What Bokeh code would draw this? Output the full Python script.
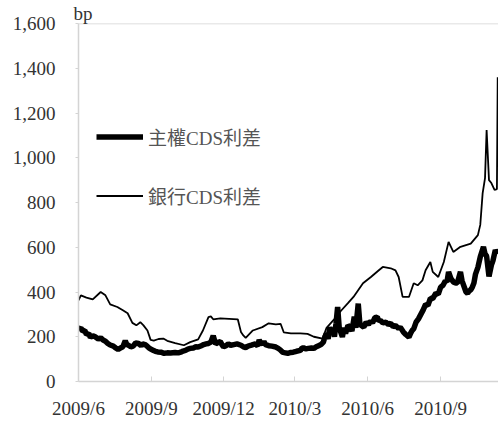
import pandas as pd
from bokeh.plotting import figure
from bokeh.models import (Range1d, FixedTicker, Legend, LegendItem, Title,
                          NumeralTickFormatter, Span)
from bokeh.embed import file_html
from bokeh.resources import INLINE

# ---------------- data ----------------
base_date = "2009-06-01"
tick_dates = ["2009-06-01", "2009-09-01", "2009-12-01", "2010-03-01", "2010-06-01", "2010-09-01"]
tick_labels = ["2009/6", "2009/9", "2009/12", "2010/3", "2010/6", "2010/9"]
end_date = "2010-11-13"
y_ticks = [0, 200, 400, 600, 800, 1000, 1200, 1400, 1600]
unit_label = "bp"

series_names = ["主權CDS利差", "銀行CDS利差"]

# days since base_date, spread in bp
bank_day = [0, 3, 10, 18, 28, 34, 40, 49, 56, 62, 68, 73, 78, 82, 87, 91, 95, 101, 107, 112,
            122, 133, 141, 151, 157, 164, 167, 170, 179, 201, 205, 208, 211, 220, 232, 240,
            249, 255, 259, 268, 280, 289, 297, 308, 313, 322, 331, 340, 347, 359, 369, 379,
            384, 394, 400, 404, 409, 417, 423, 428, 434, 438, 444, 447, 454, 461, 467, 473,
            482, 495, 504, 507, 510, 513, 515, 518, 521, 525, 528, 529]
bank_bp = [363, 385, 375, 367, 400, 385, 345, 333, 318, 305, 262, 251, 265, 251, 228, 186, 183,
           190, 192, 182, 172, 162, 176, 188, 228, 288, 291, 278, 282, 278, 221, 206, 195, 228,
           243, 260, 255, 258, 220, 215, 215, 213, 200, 192, 240, 275, 315, 350, 378, 439, 467,
           497, 512, 506, 497, 467, 378, 378, 439, 430, 452, 497, 534, 490, 467, 534, 624, 579,
           602, 616, 654, 700, 842, 909, 1124, 900, 887, 856, 860, 1360]

sov_day = [0, 3, 5, 8, 10, 13, 15, 18, 21, 25, 28, 31, 34, 37, 40, 44, 47, 50, 53, 56, 59, 61,
           63, 66, 69, 72, 76, 79, 81, 84, 86, 89, 91, 94, 97, 100, 104, 108, 112, 116, 122,
           126, 129, 132, 135, 138, 141, 145, 148, 151, 155, 158, 161, 164, 167, 170, 172, 173,
           176, 179, 181, 183, 186, 189, 192, 196, 200, 205, 208, 211, 214, 217, 220, 223, 226,
           228, 230, 232, 234, 236, 240, 244, 249, 252, 255, 258, 261, 264, 268, 271, 275, 280,
           282, 284, 287, 290, 294, 297, 300, 303, 306, 309, 311, 313, 315, 317, 319, 321, 323,
           325, 327, 329, 331, 333, 335, 337, 340, 343, 345, 348, 350, 353, 355, 357, 360, 363,
           366, 369, 371, 374, 377, 379, 381, 384, 388, 391, 394, 397, 400, 404, 406, 410, 413,
           417, 419, 421, 423, 426, 429, 432, 435, 438, 441, 444, 447, 451, 454, 457, 460, 463,
           465, 467, 470, 473, 476, 478, 480, 482, 484, 487, 489, 491, 493, 495, 497, 499, 501,
           504, 507, 509, 511, 513, 515, 518, 521, 523, 526, 529]
sov_bp = [232, 240, 225, 228, 210, 215, 197, 205, 200, 190, 195, 185, 180, 170, 163, 158, 150,
          143, 150, 155, 182, 165, 162, 155, 158, 172, 170, 160, 168, 165, 160, 150, 145, 140,
          135, 132, 131, 126, 128, 127, 130, 128, 131, 136, 139, 145, 148, 150, 155, 154, 160,
          165, 168, 170, 176, 205, 180, 168, 175, 178, 165, 155, 160, 168, 162, 165, 168, 162,
          155, 152, 158, 161, 165, 168, 160, 185, 172, 168, 178, 165, 160, 158, 154, 148, 140,
          130, 128, 126, 130, 131, 135, 139, 150, 150, 146, 148, 150, 148, 155, 160, 165, 176,
          200, 215, 190, 243, 210, 240, 200, 260, 333, 240, 220, 199, 240, 215, 250, 243, 225,
          290, 240, 348, 260, 250, 243, 265, 255, 270, 262, 285, 288, 270, 273, 262, 265, 255,
          260, 245, 250, 237, 243, 221, 210, 198, 215, 228, 235, 265, 280, 300, 320, 345, 340,
          372, 370, 395, 390, 422, 430, 450, 445, 490, 460, 445, 440, 440, 465, 490, 450, 420,
          400, 394, 405, 410, 422, 440, 480, 510, 557, 580, 602, 570, 560, 470, 520, 540, 587,
          570]

# ---------------- derived ----------------
base = pd.Timestamp(base_date)
tick_days = [(pd.Timestamp(d) - base).days for d in tick_dates]
end_day = (pd.Timestamp(end_date) - base).days

serif = "Liberation Serif, Noto Sans CJK TC"

p = figure(width=498, height=421, output_backend="svg", toolbar_location=None,
           x_range=Range1d(0, end_day), y_range=Range1d(0, 1600),
           min_border_left=78, min_border_right=0, min_border_top=0, min_border_bottom=40)
p.background_fill_color = "white"
p.border_fill_color = "white"
p.outline_line_color = None
p.xgrid.visible = False
p.ygrid.visible = False

p.title = Title(text=unit_label, align="left", offset=-5, standoff=0,
                text_font=serif, text_font_size="19px", text_font_style="normal",
                text_color="#333333")

r_sov = p.line(sov_day, sov_bp, line_color="black", line_width=5.5)
r_bank = p.line(bank_day, bank_bp, line_color="black", line_width=1.8)

axis_grey = "#d4d4d4"
p.xaxis.ticker = FixedTicker(ticks=tick_days)
p.xaxis.major_label_overrides = {d: l for d, l in zip(tick_days, tick_labels)}
p.xaxis.major_tick_in = 5
p.xaxis.major_tick_out = 0
p.xaxis.major_label_standoff = 16

p.yaxis.ticker = FixedTicker(ticks=y_ticks)
p.yaxis.formatter = NumeralTickFormatter(format="0,0")
p.yaxis.major_tick_in = 0
p.yaxis.major_tick_out = 3
p.yaxis.major_label_standoff = 20

for ax in (p.xaxis, p.yaxis):
    ax.axis_line_color = axis_grey
    ax.axis_line_width = 1.5
    ax.major_tick_line_color = axis_grey
    ax.minor_tick_line_color = None
    ax.major_label_text_font = serif
    ax.major_label_text_font_size = "19px"
    ax.major_label_text_color = "#333333"

p.add_layout(Span(location=1600, dimension="width", line_color=axis_grey, line_width=1.5))

legend = Legend(items=[LegendItem(label=series_names[0], renderers=[r_sov]),
                       LegendItem(label=series_names[1], renderers=[r_bank])],
                location=(18, 172), glyph_width=47, glyph_height=23, label_height=23,
                label_standoff=5, spacing=32, padding=0, margin=0,
                border_line_color=None, background_fill_alpha=0,
                label_text_font=serif, label_text_font_size="19px",
                label_text_color="#555555")
p.add_layout(legend)

open("out.html", "w").write(file_html(p, INLINE))
